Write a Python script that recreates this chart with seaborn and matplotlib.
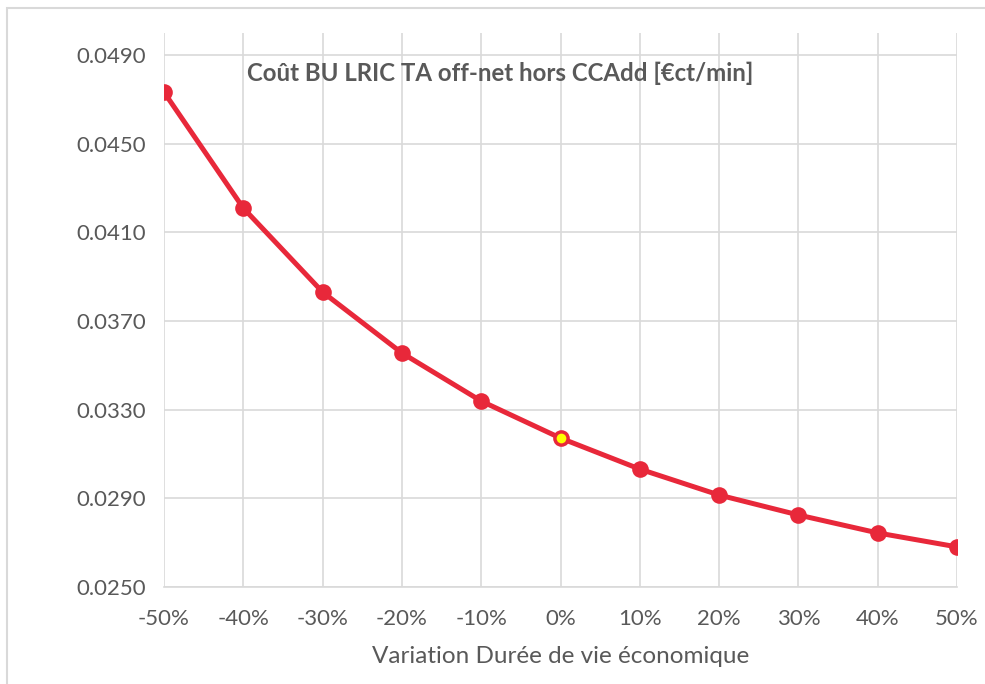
import numpy as np
import pandas as pd
import matplotlib
matplotlib.use("Agg")
import matplotlib.pyplot as plt
import seaborn as sns

# data
variation = [-50, -40, -30, -20, -10, 0, 10, 20, 30, 40, 50]
cost = [0.04733, 0.04210, 0.03831, 0.03556, 0.03339, 0.03172,
        0.03032, 0.02915, 0.02825, 0.02744, 0.02681]
base_point = 0  # highlighted scenario
y_ticks = [0.0250, 0.0290, 0.0330, 0.0370, 0.0410, 0.0450, 0.0490]

df = pd.DataFrame({"variation": variation, "cost": cost})

sns.set_style("white")
plt.rcParams['font.family'] = ['Lato', 'DejaVu Sans']

red = "#E8283A"
grey_txt = "#595959"
grid_c = "#D9D9D9"

fig = plt.figure(figsize=(9.85, 6.84), dpi=100)
ax = fig.add_axes([164 / 985, 1 - 587 / 684, (957 - 164) / 985, (587 - 33) / 684])

sns.lineplot(data=df, x="variation", y="cost", ax=ax, color=red,
             linewidth=3.6, marker="o", markersize=12, markeredgecolor=red,
             markeredgewidth=0)

# highlighted base case
base = df[df["variation"] == base_point]
ax.plot(base["variation"], base["cost"], "o", color="#FFFF00",
        markeredgecolor=red, markeredgewidth=1.5, markersize=8.5, zorder=5)

ax.set_xlim(-50, 50)
ax.set_ylim(0.0250, 0.0500)
ax.set_xticks(variation)
ax.set_xticklabels([f"{v}%" for v in variation])
ax.set_yticks(y_ticks)
ax.set_yticklabels([f"{t:.4f}" for t in y_ticks])
ax.tick_params(axis="both", length=0, labelsize=16, colors=grey_txt)
ax.tick_params(axis="x", pad=16)
ax.tick_params(axis="y", pad=13)

ax.grid(True, color=grid_c, linewidth=1.2)
ax.set_axisbelow(True)
for side in ["top", "right", "left"]:
    ax.spines[side].set_visible(False)
ax.spines["bottom"].set_color(grid_c)
ax.spines["bottom"].set_linewidth(1.2)

ax.set_xlabel("Variation Durée de vie économique", fontsize=17.5,
              color=grey_txt, labelpad=12)
ax.set_ylabel("")

ax.text((247 - 164) / (957 - 164), (587 - 73) / (587 - 33),
        "Coût BU LRIC TA off-net hors CCAdd [€ct/min]",
        transform=ax.transAxes, ha="left", va="center",
        fontsize=17.3, fontweight="bold", color=grey_txt)

# outer chart border
fig.add_artist(plt.Rectangle((7 / 985, -0.01), 1, 1 - 8 / 684 + 0.01,
                             transform=fig.transFigure, fill=False,
                             edgecolor="#D9D9D9", linewidth=1.5))

fig.savefig("out.png", dpi=100, facecolor="white")
